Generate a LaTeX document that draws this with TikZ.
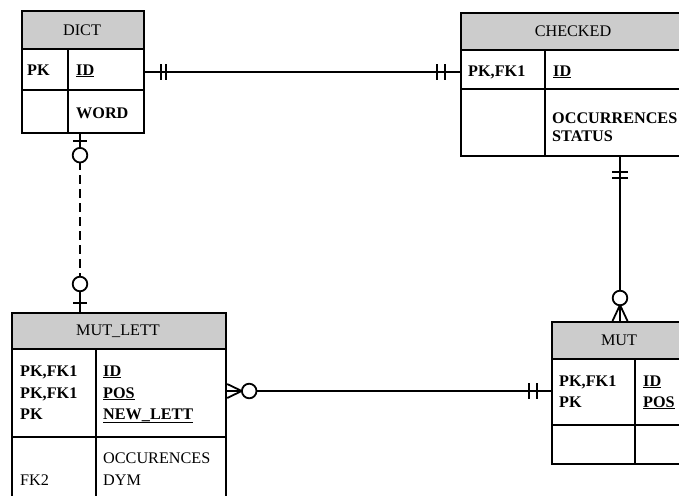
\documentclass[tikz,border=0pt]{standalone}
\usepackage{fontspec}
\setmainfont{Liberation Serif}
\begin{document}
\begin{tikzpicture}[x=1pt,y=-1pt,
  tbl/.style={draw, line width=2.2pt, inner sep=0pt, anchor=north west},
  grid/.style={line width=2.2pt},
  conn/.style={line width=1.8pt},
  txt/.style={inner sep=0pt, anchor=base west, font=\fontsize{16.2}{21}\selectfont},
  ttl/.style={inner sep=0pt, anchor=base, font=\fontsize{16.2}{21}\selectfont},
]
\definecolor{hdrgray}{HTML}{CCCCCC}
\useasboundingbox (0,0) rectangle (679,495);
\begin{scope}
\clip (0,0) rectangle (679,495);
% ---------- DICT ----------
\fill[hdrgray] (21,10) rectangle (143,49);
\node[tbl, minimum width=122pt, minimum height=122pt] (dict) at (21,10) {};
\draw[grid] (21,49) -- (143,49) (21,90) -- (143,90) (68,49) -- (68,132);
\node[ttl] (dictT) at (82,36) {DICT};
\node[txt] (dictPK) at (27,75) {\textbf{PK}};
\node[txt] (dictID) at (76,75) {\textbf{\underline{ID}}};
\node[txt] (dictW) at (76,118) {\textbf{WORD}};
% ---------- CHECKED ----------
\fill[hdrgray] (460,12) rectangle (690,50);
\node[tbl, minimum width=230pt, minimum height=143pt] (chk) at (460,12) {};
\draw[grid] (460,50) -- (690,50) (460,89) -- (690,89) (545,50) -- (545,155);
\node[ttl] (chkT) at (573,37) {CHECKED};
\node[txt] (chkPK) at (468,76) {\textbf{PK,FK1}};
\node[txt] (chkID) at (553,76) {\textbf{\underline{ID}}};
\node[txt] (chkO1) at (552,123) {\textbf{OCCURRENCES}};
\node[txt] (chkO2) at (552,141) {\textbf{STATUS}};
% ---------- MUT_LETT ----------
\fill[hdrgray] (11,312) rectangle (225,349);
\node[tbl, minimum width=214pt, minimum height=200pt] (ml) at (11,312) {};
\draw[grid] (11,349) -- (225,349) (11,437) -- (225,437) (96,349) -- (96,512);
\node[ttl] (mlT) at (118,335) {MUT\_LETT};
\node[txt] (mlP1) at (20,376) {\textbf{PK,FK1}};
\node[txt] (mlP2) at (20,398) {\textbf{PK,FK1}};
\node[txt] (mlP3) at (20,419) {\textbf{PK}};
\node[txt] (mlI1) at (103,376) {\textbf{\underline{ID}}};
\node[txt] (mlI2) at (103,398) {\textbf{\underline{POS}}};
\node[txt] (mlI3) at (103,419) {\textbf{\underline{NEW\_LETT}}};
\node[txt] (mlO) at (103,463) {OCCURENCES};
\node[txt] (mlD) at (103,485) {DYM};
\node[txt] (mlF) at (20,485) {FK2};
% ---------- MUT ----------
\fill[hdrgray] (551,321) rectangle (690,359);
\node[tbl, minimum width=139pt, minimum height=142pt] (mut) at (551,321) {};
\draw[grid] (551,359) -- (690,359) (551,425) -- (690,425) (635,359) -- (635,463);
\node[ttl] (mutT) at (619,345) {MUT};
\node[txt] (mutP1) at (559,386) {\textbf{PK,FK1}};
\node[txt] (mutP2) at (559,407) {\textbf{PK}};
\node[txt] (mutI1) at (643,386) {\textbf{\underline{ID}}};
\node[txt] (mutI2) at (643,407) {\textbf{\underline{POS}}};
% ---------- connectors ----------
% DICT -- CHECKED
\coordinate (a1) at (dict.north east |- 0,72);
\coordinate (a2) at (chk.north west |- 0,72);
\draw[conn] (a1) -- (a2);
\draw[conn] ([xshift=16pt]a1) ++(0,-8) -- ++(0,16) ([xshift=21pt]a1) ++(0,-8) -- ++(0,16);
\draw[conn] ([xshift=-23pt]a2) ++(0,-8) -- ++(0,16) ([xshift=-15pt]a2) ++(0,-8) -- ++(0,16);
% CHECKED -- MUT
\coordinate (b1) at (chk.south west -| 620,0);
\coordinate (b2) at (mut.north west -| 620,0);
\draw[conn] (b1) -- ([yshift=30.5pt]b2);
\draw[conn] ([yshift=-15pt]b1) ++(-8,0) -- ++(16,0) ([yshift=-21pt]b1) ++(-8,0) -- ++(16,0);
\draw[conn, fill=white] ([yshift=23pt]b2) circle (7.3pt);
\draw[conn] ([yshift=16pt]b2) -- (b2) ([yshift=16pt]b2) -- ([xshift=-7.5pt]b2) ([yshift=16pt]b2) -- ([xshift=7.5pt]b2);
% MUT_LETT -- MUT
\coordinate (c1) at (ml.north east |- 0,391);
\coordinate (c2) at (mut.north west |- 0,391);
\draw[conn] ([xshift=29.5pt]c1) -- (c2);
\draw[conn, fill=white] ([xshift=22pt]c1) circle (7.3pt);
\draw[conn] ([xshift=14.5pt]c1) -- (c1) ([xshift=14.5pt]c1) -- ([yshift=-7pt]c1) ([xshift=14.5pt]c1) -- ([yshift=7pt]c1);
\draw[conn] ([xshift=-22pt]c2) ++(0,-8) -- ++(0,16) ([xshift=-14pt]c2) ++(0,-8) -- ++(0,16);
% DICT -- MUT_LETT (dashed)
\coordinate (d1) at (dict.south west -| 80,0);
\coordinate (d2) at (ml.north west -| 80,0);
\draw[conn] (d1) -- ([yshift=-14pt]d1);
\draw[conn] ([yshift=-7pt]d1) ++(-7,0) -- ++(14,0);
\draw[conn, fill=white] ([yshift=-21pt]d1) circle (7.3pt);
\draw[conn] ([yshift=-28.3pt]d1) -- ([yshift=-36pt]d1);
\draw[conn, dash pattern=on 9pt off 5pt] ([yshift=-41pt]d1) -- ([yshift=36pt]d2);
\draw[conn] ([yshift=21pt]d2) -- (d2);
\draw[conn] ([yshift=9pt]d2) ++(-7,0) -- ++(14,0);
\draw[conn, fill=white] ([yshift=28pt]d2) circle (7.3pt);
\end{scope}
\end{tikzpicture}
\end{document}
